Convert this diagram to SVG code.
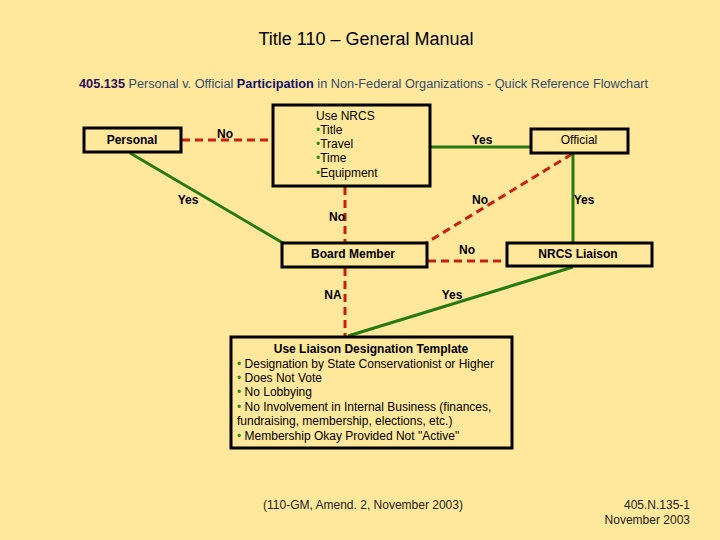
<svg xmlns="http://www.w3.org/2000/svg" width="720" height="540" viewBox="0 0 720 540">
<style>
text{font-family:"Liberation Sans",Arial,sans-serif;fill:#000}
.box{fill:none;stroke:#000;stroke-width:3}
.yes{stroke:#267A12;stroke-width:3;fill:none}
.no{stroke:#C8200E;stroke-width:3;fill:none;stroke-dasharray:8,5}
.lbl{font-size:12px;font-weight:bold}
.nl{font-size:12px}
.bul{fill:#2E8B22}
.ft{font-size:12px;fill:#222}
</style>
<rect x="0" y="0" width="720" height="540" fill="#FFE89B"/>
<text x="366" y="45" font-size="18" text-anchor="middle">Title 110 – General Manual</text>
<text x="79" y="88" font-size="12" textLength="569" lengthAdjust="spacingAndGlyphs"><tspan fill="#2B0F5E" font-weight="bold">405.135</tspan><tspan fill="#334C6E">  Personal v. Official </tspan><tspan fill="#10106A" font-weight="bold">Participation</tspan><tspan fill="#334C6E"> in Non-Federal Organizations - Quick Reference Flowchart</tspan></text>

<g id="connectors">
<line class="no" x1="182" y1="140" x2="272" y2="140"/>
<text class="lbl" x="225" y="138" text-anchor="middle">No</text>
<line class="yes" x1="130" y1="153" x2="283" y2="243"/>
<text class="lbl" x="188" y="204" text-anchor="middle">Yes</text>
<line class="yes" x1="431" y1="147" x2="530" y2="147"/>
<text class="lbl" x="482" y="144" text-anchor="middle">Yes</text>
<line class="no" x1="345" y1="187" x2="345" y2="242"/>
<text class="lbl" x="337" y="221" text-anchor="middle">No</text>
<line class="no" x1="572" y1="154" x2="426" y2="243"/>
<text class="lbl" x="480" y="204" text-anchor="middle">No</text>
<line class="yes" x1="573" y1="154" x2="573" y2="242"/>
<text class="lbl" x="584" y="204" text-anchor="middle">Yes</text>
<line class="no" x1="428" y1="261" x2="506" y2="261"/>
<text class="lbl" x="467" y="254" text-anchor="middle">No</text>
<line class="no" x1="345" y1="268" x2="345" y2="336"/>
<text class="lbl" x="333" y="299" text-anchor="middle">NA</text>
<line class="yes" x1="573" y1="267" x2="348" y2="336"/>
<text class="lbl" x="452" y="299" text-anchor="middle">Yes</text>
</g>

<g id="personal">
<rect class="box" x="84" y="128" width="97" height="24"/>
<text class="lbl" x="132" y="144" text-anchor="middle">Personal</text>
</g>
<g id="use-nrcs">
<rect class="box" x="273" y="105" width="157" height="81"/>
<text class="nl" x="316" y="120">Use NRCS</text>
<text class="nl" x="316" y="134"><tspan class="bul">•</tspan>Title</text>
<text class="nl" x="316" y="148"><tspan class="bul">•</tspan>Travel</text>
<text class="nl" x="316" y="162"><tspan class="bul">•</tspan>Time</text>
<text class="nl" x="316" y="177"><tspan class="bul">•</tspan>Equipment</text>
</g>
<g id="official">
<rect class="box" x="531" y="129" width="97" height="24"/>
<text class="nl" x="579" y="144" text-anchor="middle">Official</text>
</g>
<g id="board-member">
<rect class="box" x="282" y="243" width="145" height="24"/>
<text class="lbl" x="353" y="258" text-anchor="middle">Board Member</text>
</g>
<g id="nrcs-liaison">
<rect class="box" x="507" y="243" width="145" height="23"/>
<text class="lbl" x="578" y="258" text-anchor="middle">NRCS Liaison</text>
</g>
<g id="template">
<rect class="box" x="231" y="337" width="281" height="111"/>
<text class="lbl" x="371" y="353" text-anchor="middle">Use Liaison Designation Template</text>
<text class="nl" x="237" y="368"><tspan class="bul">•</tspan> Designation by State Conservationist  or Higher</text>
<text class="nl" x="237" y="382"><tspan class="bul">•</tspan> Does Not Vote</text>
<text class="nl" x="237" y="396"><tspan class="bul">•</tspan> No Lobbying</text>
<text class="nl" x="237" y="411"><tspan class="bul">•</tspan> No Involvement in Internal Business (finances,</text>
<text class="nl" x="237" y="425">fundraising, membership, elections, etc.)</text>
<text class="nl" x="237" y="440"><tspan class="bul">•</tspan> Membership Okay Provided Not "Active"</text>
</g>

<text class="ft" x="363" y="509" text-anchor="middle">(110-GM, Amend. 2, November 2003)</text>
<text class="ft" x="690" y="509" text-anchor="end">405.N.135-1</text>
<text class="ft" x="690" y="524" text-anchor="end">November 2003</text>
</svg>
